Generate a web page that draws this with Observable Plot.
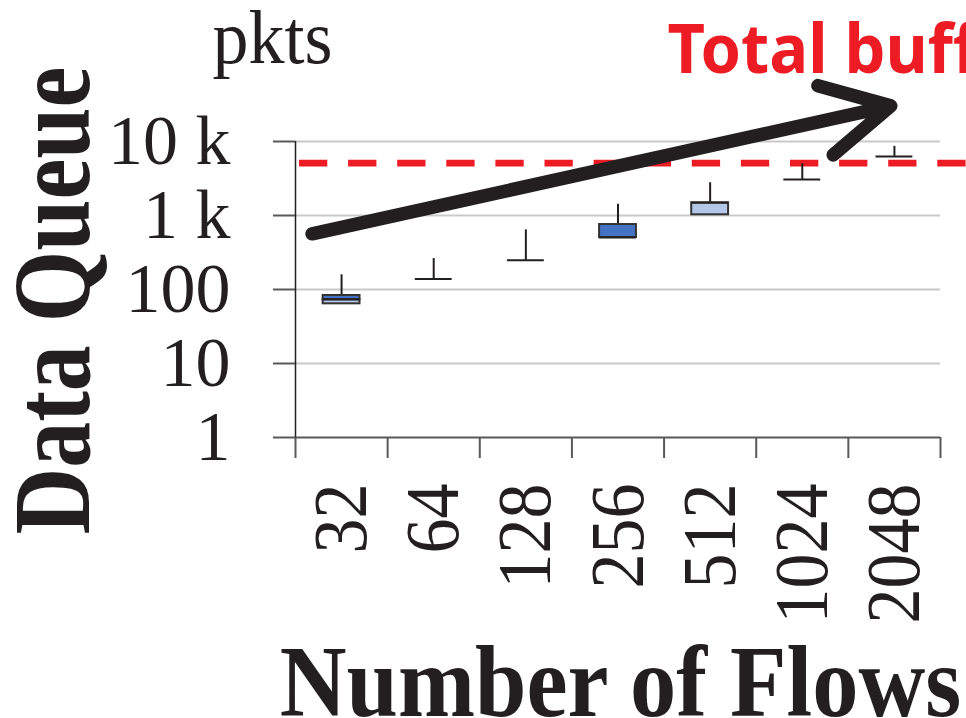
<!DOCTYPE html>
<html>
<head>
<meta charset="utf-8">
<script src="https://cdn.jsdelivr.net/npm/d3@7"></script>
<script src="https://cdn.jsdelivr.net/npm/@observablehq/plot@0.6"></script>
<style>
  html, body { margin: 0; padding: 0; background: #fff; overflow: hidden; }
  #chart { width: 966px; height: 718px; }
</style>
</head>
<body>
<div id="chart"></div>
<script>
// ---- data ----
const flows = ["32", "64", "128", "256", "512", "1024", "2048"];
const q1 = [64, 139, 248, 504, 1022, 3070, 6290];
const median = [73, 139, 248, 504, 1486, 3070, 6290];
const q3 = [83, 139, 248, 755, 1486, 3070, 6290];
const whiskerMax = [158, 262, 640, 1422, 2771, 5000, 8590];
const totalBuffer = 5100;
const yTicks = [1, 10, 100, 1000, 10000];
const yTickLabels = ["1", "10", "100", "1 k", "10 k"];
const trendArrow = [{x1: 0.18, y1: 565, x2: 6.46, y2: 30300}];

const boxes = flows.map((f, i) => ({flows: f, i, q1: q1[i], median: median[i], q3: q3[i], max: whiskerMax[i]}));
const center = d => d.i + 0.5;
const halfBox = 0.2;

const ink = "#231f20";
const darkBlue = "#4472C4";
const lightBlue = "#B4C7E7";
const red = "#ED1C24";
const serif = "'Liberation Serif', 'Times New Roman', serif";

const chart = Plot.plot({
  width: 966,
  height: 718,
  marginLeft: 295,
  marginRight: 26,
  marginTop: 141,
  marginBottom: 281,
  style: {fontFamily: serif, fontSize: "70px", color: ink, background: "#fff", overflow: "hidden"},
  x: {type: "linear", domain: [0, flows.length]},
  y: {type: "log", domain: [1, 10000]},
  marks: [
    // gridlines
    Plot.ruleY(yTicks.slice(1), {stroke: "#c9c9c9", strokeWidth: 2}),
    // x axis line
    Plot.ruleY([1], {stroke: "#595959", strokeWidth: 2}),
    // y axis line
    Plot.ruleX([0], {stroke: ink, strokeWidth: 1.5}),
    Plot.axisY({ticks: yTicks, tickFormat: d => yTickLabels[yTicks.indexOf(d)], tickSize: 22, tickPadding: 43,
      stroke: "#595959", fill: ink, strokeWidth: 2, fontSize: 70, label: null}),
    Plot.axisX({ticks: d3.range(flows.length + 1), tickSize: 21, tickFormat: () => "", stroke: "#595959", strokeWidth: 2, label: null}),
    // category labels
    Plot.text(flows, {x: (d, i) => i + 0.5, frameAnchor: "bottom", dy: 46, rotate: -90,
      textAnchor: "end", lineAnchor: "middle", fontSize: 70, fill: ink}),
    // total buffer line
    Plot.ruleY([totalBuffer], {stroke: red, strokeWidth: 6.7, strokeDasharray: "28.3,20.8", insetLeft: 4, insetRight: -26}),
    // whiskers
    Plot.ruleX(boxes, {x: center, y1: "q3", y2: "max", stroke: ink, strokeWidth: 2}),
    // boxes: upper part (median -> q3) dark, lower part (q1 -> median) light
    Plot.rect(boxes.filter(d => d.q3 > d.median), {x1: d => center(d) - halfBox, x2: d => center(d) + halfBox,
      y1: "median", y2: "q3", fill: darkBlue, stroke: "#333", strokeWidth: 2}),
    Plot.rect(boxes.filter(d => d.median > d.q1), {x1: d => center(d) - halfBox, x2: d => center(d) + halfBox,
      y1: "q1", y2: "median", fill: lightBlue, stroke: "#333", strokeWidth: 2}),
    Plot.ruleY(boxes, {y: "median", x1: d => center(d) - halfBox, x2: d => center(d) + halfBox, stroke: ink, strokeWidth: 2}),
    // trend arrow
    Plot.arrow(trendArrow, {x1: "x1", y1: "y1", x2: "x2", y2: "y2", stroke: ink, strokeWidth: 13.5,
      headLength: 8.4, headAngle: 56, strokeLinecap: "round", strokeLinejoin: "miter"}),
    // titles
    Plot.text(["Data Queue"], {frameAnchor: "left", dx: -207, dy: 11, rotate: -90, textAnchor: "middle",
      lineAnchor: "bottom", fontSize: 92, fontWeight: "bold", fill: ink}),
    Plot.text(["Number of Flows"], {frameAnchor: "bottom", dx: 2.5, dy: 278, textAnchor: "middle",
      lineAnchor: "bottom", fontSize: 92.5, fontWeight: "bold", fill: ink}),
    Plot.text(["pkts"], {frameAnchor: "top-left", dx: -83, dy: -79, textAnchor: "start",
      lineAnchor: "bottom", fontSize: 72, fill: ink}),
    Plot.text(["Total buff"], {frameAnchor: "top-left", dx: 372, dy: -69, textAnchor: "start",
      lineAnchor: "bottom", fontSize: 65, fontWeight: "bold", fontFamily: "'Noto Sans', sans-serif", fill: red})
  ]
});
document.getElementById("chart").appendChild(chart);

// the reference's lettering is drawn a little taller than its advance width:
// stretch each text about its own anchor, in its own (possibly rotated) frame
const texts = d3.select(chart).selectAll("text");
function stretch(filter, k) {
  texts.filter(filter).each(function () {
    const t = this.getAttribute("transform") || "";
    this.setAttribute("transform", `${t} scale(1,${k})`);
  });
}
stretch(function () { return this.textContent === "Data Queue"; }, 1.2);
stretch(function () { return flows.includes(this.textContent); }, 1.1);
stretch(function () { return this.textContent === "Number of Flows"; }, 1.1);
stretch(function () { return this.textContent === "pkts"; }, 1.05);
stretch(function () { return this.textContent === "Total buff"; }, 1.04);
</script>
</body>
</html>
